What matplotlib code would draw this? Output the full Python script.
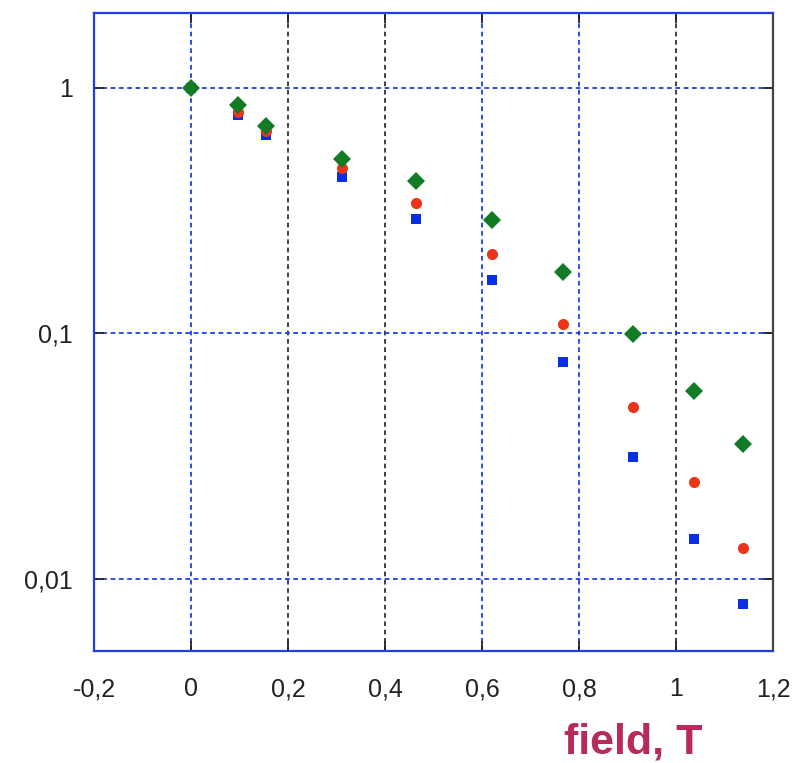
import numpy as np
import matplotlib
matplotlib.use("Agg")
import matplotlib.pyplot as plt
from matplotlib.ticker import FixedLocator, FixedFormatter, NullLocator

# field values (T)
field = [0.0, 0.097, 0.155, 0.311, 0.464, 0.620, 0.767, 0.911, 1.037, 1.138]

# normalised signal, three series
green_vals = [1.0, 0.853, 0.700, 0.513, 0.418, 0.289, 0.1786, 0.0997, 0.0585, 0.0355]
red_vals = [1.0, 0.80, 0.67, 0.472, 0.341, 0.2108, 0.109, 0.0503, 0.0249, 0.0134]
blue_vals = [1.0, 0.776, 0.643, 0.435, 0.2935, 0.165, 0.0763, 0.0313, 0.01455, 0.0079]

xticks = [-0.2, 0.0, 0.2, 0.4, 0.6, 0.8, 1.0, 1.2]
xtick_labels = ['-0,2', '0', '0,2', '0,4', '0,6', '0,8', '1', '1,2']
yticks = [0.01, 0.1, 1.0]
ytick_labels = ['0,01', '0,1', '1']

BLUE = '#1f3fe0'
BLACK = '#303030'
xgrid_colors = [None, BLUE, BLACK, BLACK, BLUE, BLUE, BLACK, None]

tick_font = ['Liberation Sans', 'DejaVu Sans']

fig = plt.figure(figsize=(7.95, 7.63), dpi=100)
ax = fig.add_axes([94/795, 1 - 651/763, (773-94)/795, (651-13)/763])

ax.plot(field, blue_vals, 's', color='#0a2ee6', markersize=7.5, markeredgewidth=0, zorder=3)
ax.plot(field, red_vals, 'o', color='#ec3418', markersize=8, markeredgewidth=0, zorder=4)
ax.plot(field, green_vals, 'D', color='#137a26', markersize=9.5, markeredgewidth=0, zorder=5)

ax.set_yscale('log')
ax.set_xlim(-0.2, 1.2)
ax.set_ylim(0.00509, 2.02)

ax.xaxis.set_major_locator(FixedLocator(xticks))
ax.xaxis.set_major_formatter(FixedFormatter(xtick_labels))
ax.yaxis.set_major_locator(FixedLocator(yticks))
ax.yaxis.set_major_formatter(FixedFormatter(ytick_labels))
ax.yaxis.set_minor_locator(NullLocator())
ax.xaxis.set_minor_locator(NullLocator())

ax.tick_params(axis='both', which='major', direction='in', length=7, width=1.3,
               top=True, right=True, labelsize=18, colors='#222222')
ax.tick_params(axis='x', pad=19)
ax.tick_params(axis='y', pad=15)
for lab in ax.get_xticklabels() + ax.get_yticklabels():
    lab.set_family(tick_font)

dash = (0, (2.6, 2.0))
# vertical grid, colour per tick
for t, c in zip(ax.xaxis.get_major_ticks(), xgrid_colors):
    if c is None:
        t.tick1line.set_visible(False)
        t.tick2line.set_visible(False)
        t.gridline.set_visible(False)
        continue
    t.tick1line.set_color(c)
    t.tick2line.set_color(c)
    t.gridline.set_color(c)
    t.gridline.set_linestyle(dash)
    t.gridline.set_linewidth(1.3)
    t.gridline.set_visible(True)
for t in ax.yaxis.get_major_ticks():
    t.tick1line.set_color(BLUE)
    t.tick2line.set_color(BLUE)
    t.gridline.set_color(BLUE)
    t.gridline.set_linestyle(dash)
    t.gridline.set_linewidth(1.3)
    t.gridline.set_visible(True)

for side in ['left', 'bottom', 'top']:
    ax.spines[side].set_color(BLUE)
    ax.spines[side].set_linewidth(1.6)
ax.spines['right'].set_color('#444444')
ax.spines['right'].set_linewidth(1.6)

fig.text(633/795, 1 - 742/763, 'field, T', ha='center', va='center',
         fontsize=31, fontweight='bold', color='#b82a5c',
         family=['Liberation Sans', 'DejaVu Sans'])

fig.savefig('out.png', dpi=100)
